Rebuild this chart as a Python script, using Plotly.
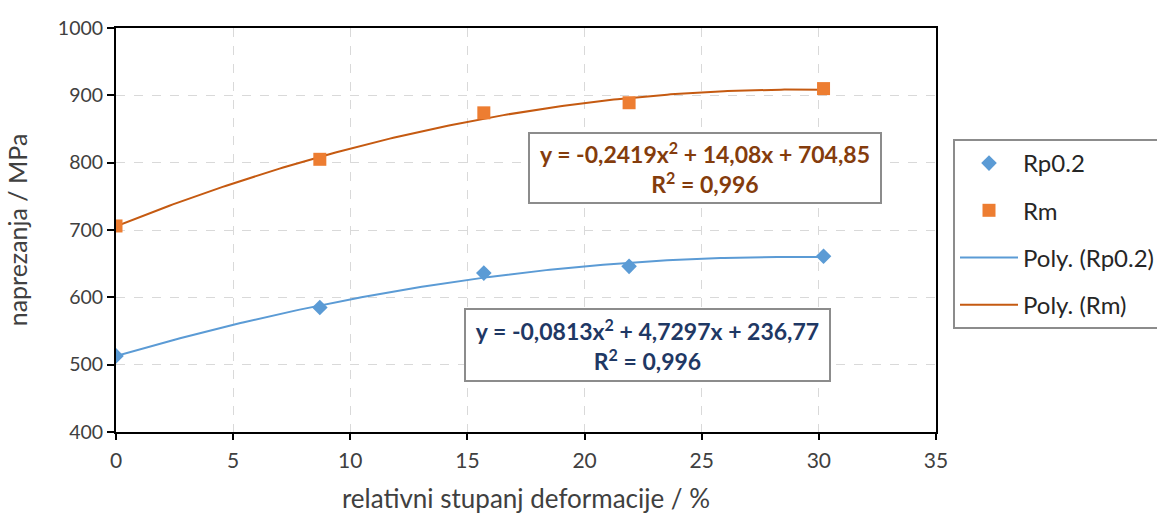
import numpy as np
import plotly.graph_objects as go

# ---- data ----
deformation = [0.0, 8.7, 15.7, 21.9, 30.2]          # relativni stupanj deformacije / %
rp02 = [513, 585, 636, 646, 661]                    # Rp0.2 / MPa
rm = [706, 805, 874, 889, 910]                      # Rm / MPa

eq_rm = "y = -0,2419x<sup>2</sup> + 14,08x + 704,85<br>R<sup>2</sup> = 0,996"
eq_rp = "y = -0,0813x<sup>2</sup> + 4,7297x + 236,77<br>R<sup>2</sup> = 0,996"

x_ticks = [0, 5, 10, 15, 20, 25, 30, 35]
y_ticks = [400, 500, 600, 700, 800, 900, 1000]

FONT = "Lato"
C_RP = "#5B9BD5"
C_RM = "#ED7D31"
C_RP_TREND = "#5B9BD5"
C_RM_TREND = "#C55A11"

# polynomial (order 2) trendlines fitted to the data
xs = np.linspace(min(deformation), max(deformation), 200)
fit_rp = np.polyval(np.polyfit(deformation, rp02, 2), xs)
fit_rm = np.polyval(np.polyfit(deformation, rm, 2), xs)

fig = go.Figure()
fig.add_trace(go.Scatter(x=xs, y=fit_rp, mode="lines", name="Poly. (Rp0.2)",
                         line=dict(color=C_RP_TREND, width=2), legendgroup="c", legendrank=3))
fig.add_trace(go.Scatter(x=xs, y=fit_rm, mode="lines", name="Poly. (Rm)",
                         line=dict(color=C_RM_TREND, width=2), legendgroup="d", legendrank=4))
fig.add_trace(go.Scatter(x=deformation, y=rp02, mode="markers", name="Rp0.2",
                         marker=dict(symbol="diamond", size=12, color=C_RP),
                         legendgroup="a", legendrank=1))
fig.add_trace(go.Scatter(x=deformation, y=rm, mode="markers", name="Rm",
                         marker=dict(symbol="square", size=13, color=C_RM),
                         legendgroup="b", legendrank=2))

axis_common = dict(
    showline=True, linecolor="black", linewidth=2, mirror=True,
    showgrid=True, gridcolor="#D9D9D9", gridwidth=1, griddash="dash",
    zeroline=False, ticks="outside", tickcolor="black", tickwidth=2,
    automargin=False,
)

W, H = 1157, 514
fig.update_layout(
    width=W, height=H,
    margin=dict(l=116, r=221, t=28, b=82),
    paper_bgcolor="white", plot_bgcolor="white",
    font=dict(family=FONT, color="#404040"),
    xaxis=dict(axis_common, range=[0, 35], tickvals=x_ticks, ticklen=6,
               tickfont=dict(family=FONT, size=21, color="#404040"),
               ticklabelstandoff=3,
               title=dict(text="relativni stupanj deformacije / %",
                          font=dict(family=FONT, size=26, color="#404040"), standoff=30)),
    yaxis=dict(axis_common, range=[400, 1000], tickvals=y_ticks, ticklen=7,
               tickfont=dict(family=FONT, size=19.5, color="#404040"),
               title=dict(text="naprezanja / MPa",
                          font=dict(family=FONT, size=25, color="#404040"), standoff=23)),
    legend=dict(xref="container", yref="container",
                x=953 / W, y=1 - 139 / H, xanchor="left", yanchor="top",
                bgcolor="white", bordercolor="#8C8C8C", borderwidth=2,
                font=dict(family=FONT, size=24, color="#262626"),
                tracegroupgap=13, itemwidth=58),
    annotations=[
        dict(x=25.14, y=792.4, xref="x", yref="y", text=eq_rm, showarrow=False,
             font=dict(family=FONT, size=23, color="#843C0C", weight="bold"),
             bordercolor="#8C8C8C", borderwidth=2, borderpad=4, bgcolor="white",
             width=342, height=60, align="center"),
        dict(x=22.68, y=529, xref="x", yref="y", text=eq_rp, showarrow=False,
             font=dict(family=FONT, size=23, color="#1F3864", weight="bold"),
             bordercolor="#8C8C8C", borderwidth=2, borderpad=4, bgcolor="white",
             width=355, height=62, align="center"),
    ],
)

fig.write_html("out.html", config={"displayModeBar": False},
               post_script="document.body.style.margin='0';document.body.style.overflow='hidden';")
